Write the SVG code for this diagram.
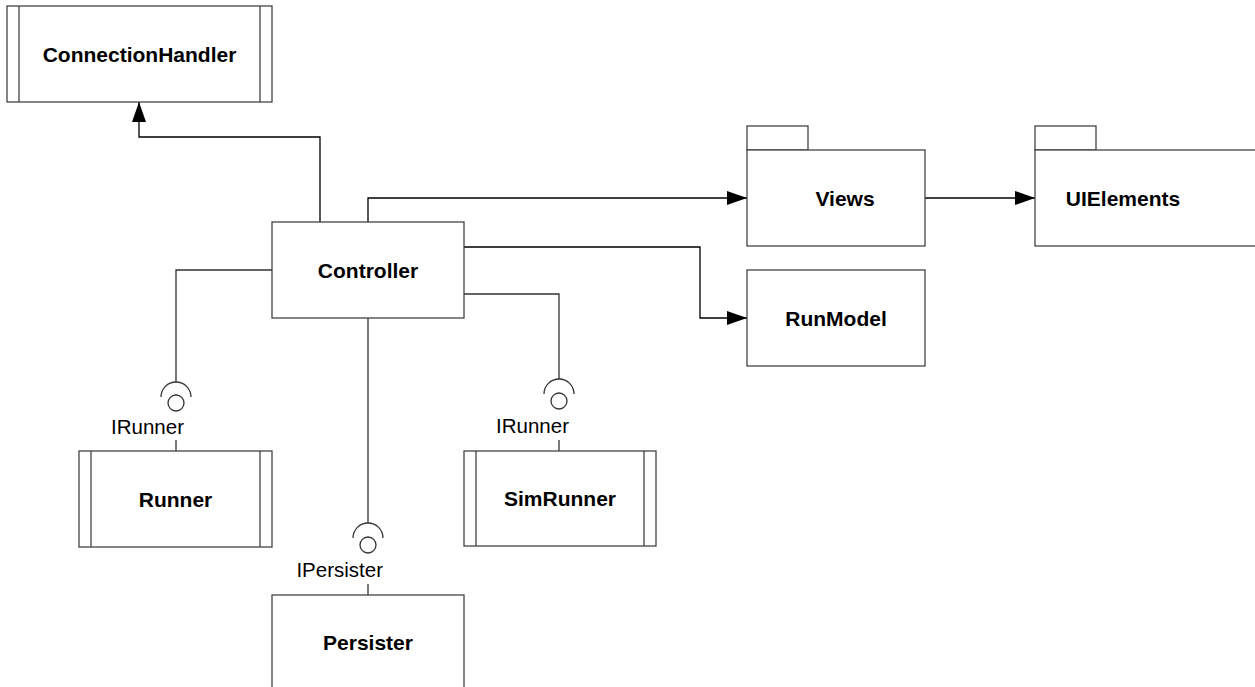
<svg xmlns="http://www.w3.org/2000/svg" width="1255" height="687" viewBox="0 0 1255 687">
<style>
.box{fill:#fff;stroke:#444;stroke-width:1.3}
.bar{fill:none;stroke:#444;stroke-width:1.3}
.lbl{font-family:"Liberation Sans",Arial,sans-serif;font-weight:bold;font-size:21px;fill:#000;text-anchor:middle}
.ifc{font-family:"Liberation Sans",Arial,sans-serif;font-size:20.5px;fill:#000;text-anchor:end}
.con{fill:none;stroke:#333;stroke-width:1.3}
.arr{fill:none;stroke:#000;stroke-width:1.3;marker-end:url(#ah)}
</style>
<defs>
<marker id="ah" viewBox="0 0 20 14" refX="20" refY="7" markerWidth="20" markerHeight="14" markerUnits="userSpaceOnUse" orient="auto">
<path d="M0,0 L20,7 L0,14 Z" fill="#000"/>
</marker>
</defs>
<rect width="1255" height="687" fill="#fff"/>
<g id="connectors">
<path class="arr" d="M320,222 V137 H139 V102"/>
<path class="arr" d="M368,222 V198 H747"/>
<path class="arr" d="M925,198 H1035"/>
<path class="arr" d="M464,247 H700 V318 H747"/>
<path class="con" d="M272,270 H176 V382"/>
<path class="con" d="M464,294 H559 V379"/>
<path class="con" d="M368,318 V523"/>
<path class="con" d="M176,440 V451"/>
<path class="con" d="M559,440 V451"/>
<path class="con" d="M368,584 V595"/>
</g>
<g id="lollipop-runner">
<path class="con" d="M161,397 A15,15 0 0 1 191,397"/>
<circle class="con" cx="176" cy="403" r="8"/>
<text class="ifc" x="184" y="434">IRunner</text>
</g>
<g id="lollipop-simrunner">
<path class="con" d="M544,394 A15,15 0 0 1 574,394"/>
<circle class="con" cx="559" cy="401" r="8"/>
<text class="ifc" x="569" y="433">IRunner</text>
</g>
<g id="lollipop-persister">
<path class="con" d="M353,538 A15,15 0 0 1 383,538"/>
<circle class="con" cx="368" cy="545" r="8"/>
<text class="ifc" x="383" y="577">IPersister</text>
</g>
<g id="ConnectionHandler">
<rect class="box" x="7" y="6" width="265" height="96"/>
<path class="bar" d="M19,6 V102 M260,6 V102"/>
<text class="lbl" x="139.5" y="61.5">ConnectionHandler</text>
</g>
<g id="Controller">
<rect class="box" x="272" y="222" width="192" height="96"/>
<text class="lbl" x="368" y="277.5">Controller</text>
</g>
<g id="Views">
<rect class="box" x="747" y="126" width="61" height="24"/>
<rect class="box" x="747" y="150" width="178" height="96"/>
<text class="lbl" x="845" y="205.5">Views</text>
</g>
<g id="UIElements">
<rect class="box" x="1035" y="126" width="61" height="24"/>
<rect class="box" x="1035" y="150" width="240" height="96"/>
<text class="lbl" x="1123" y="205.5">UIElements</text>
</g>
<g id="RunModel">
<rect class="box" x="747" y="270" width="178" height="96"/>
<text class="lbl" x="836" y="325.5">RunModel</text>
</g>
<g id="Runner">
<rect class="box" x="79" y="451" width="193" height="96"/>
<path class="bar" d="M91,451 V547 M260,451 V547"/>
<text class="lbl" x="175.5" y="506.5">Runner</text>
</g>
<g id="SimRunner">
<rect class="box" x="464" y="451" width="192" height="95"/>
<path class="bar" d="M476,451 V546 M644,451 V546"/>
<text class="lbl" x="560" y="506">SimRunner</text>
</g>
<g id="Persister">
<rect class="box" x="272" y="595" width="192" height="100"/>
<text class="lbl" x="368" y="650">Persister</text>
</g>
</svg>
